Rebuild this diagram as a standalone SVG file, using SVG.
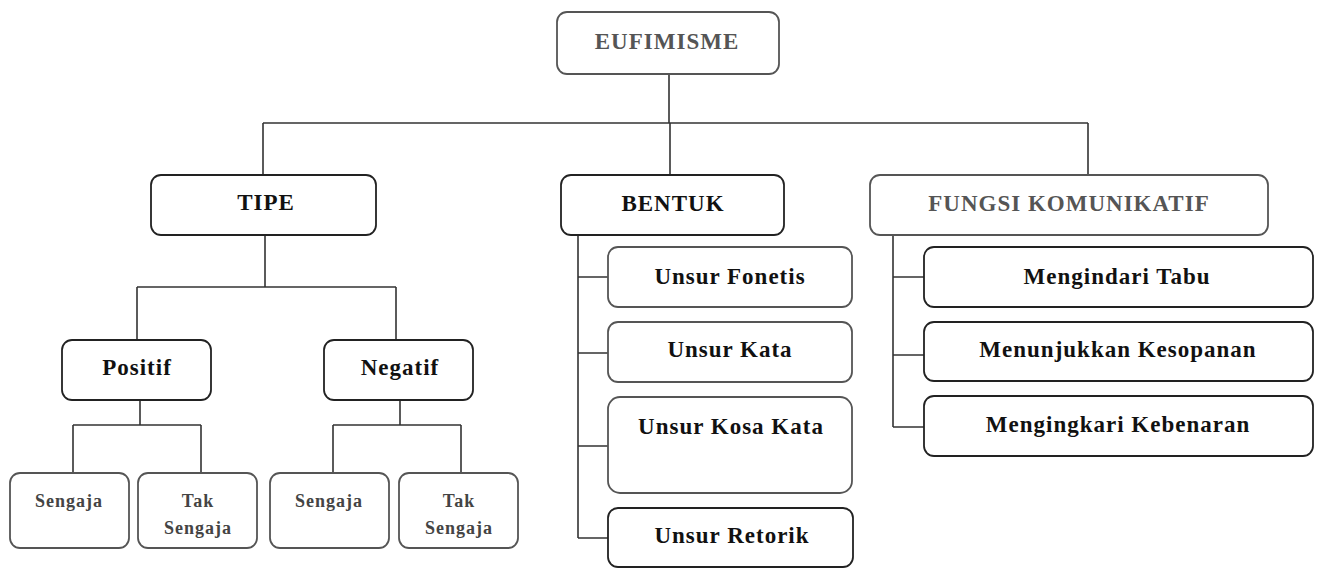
<svg xmlns="http://www.w3.org/2000/svg" width="1321" height="569" viewBox="0 0 1321 569">
<style>
.bx{fill:#fff;stroke:#222;stroke-width:1.8}
.gb{fill:#fff;stroke:#555;stroke-width:1.8}
.t{font-family:"Liberation Serif","Times New Roman",serif;font-weight:bold;font-size:23px;letter-spacing:1px;text-anchor:middle;fill:#111}
.g{fill:#555}
.s{font-family:"Liberation Serif","Times New Roman",serif;font-weight:bold;font-size:18px;letter-spacing:1px;text-anchor:middle;fill:#444}
.c{fill:none;stroke:#333;stroke-width:1.6}
</style>
<rect width="1321" height="569" fill="#fff"/>
<g id="connectors">
<path class="c" d="M669 74V123M263 123H1088M263 123V175M670 123V175M1088 123V176"/>
<path class="c" d="M265 235V287M137 287H396M137 287V340M396 287V340"/>
<path class="c" d="M140 400V425M73 425H201M73 425V473M201 425V473"/>
<path class="c" d="M400 400V425M333 425H461M333 425V473M461 425V473"/>
<path class="c" d="M578 235V538M578 277H608M578 353H608M578 446H608M578 538H608"/>
<path class="c" d="M893 235V427M893 277H924M893 355H924M893 427H924"/>
</g>
<g id="eufimisme"><rect class="gb" x="557" y="12" width="222" height="62" rx="10"/><text class="t g" x="667" y="49">EUFIMISME</text></g>
<g id="tipe"><rect class="bx" x="151" y="175" width="225" height="60" rx="10"/><text class="t" x="266" y="210">TIPE</text></g>
<g id="bentuk"><rect class="bx" x="561" y="175" width="223" height="60" rx="10"/><text class="t" x="673" y="211">BENTUK</text></g>
<g id="fungsi"><rect class="gb" x="870" y="175" width="398" height="60" rx="10"/><text class="t g" x="1069" y="211" letter-spacing="1.3">FUNGSI KOMUNIKATIF</text></g>
<g id="positif"><rect class="bx" x="62" y="340" width="149" height="60" rx="10"/><text class="t" x="137" y="375">Positif</text></g>
<g id="negatif"><rect class="bx" x="324" y="340" width="149" height="60" rx="10"/><text class="t" x="400" y="375">Negatif</text></g>
<g id="pos-sengaja"><rect class="gb" x="10" y="473" width="119" height="75" rx="10"/><text class="s" x="69" y="507">Sengaja</text></g>
<g id="pos-tak"><rect class="gb" x="138" y="473" width="119" height="75" rx="10"/><text class="s" x="198" y="507">Tak</text><text class="s" x="198" y="534">Sengaja</text></g>
<g id="neg-sengaja"><rect class="gb" x="270" y="473" width="119" height="75" rx="10"/><text class="s" x="329" y="507">Sengaja</text></g>
<g id="neg-tak"><rect class="gb" x="399" y="473" width="119" height="75" rx="10"/><text class="s" x="459" y="507">Tak</text><text class="s" x="459" y="534">Sengaja</text></g>
<g id="fonetis"><rect class="gb" x="608" y="247" width="244" height="60" rx="10"/><text class="t" x="730" y="284">Unsur Fonetis</text></g>
<g id="kata"><rect class="gb" x="608" y="322" width="244" height="60" rx="10"/><text class="t" x="730" y="357">Unsur Kata</text></g>
<g id="kosakata"><rect class="gb" x="608" y="397" width="244" height="96" rx="12"/><text class="t" x="731" y="434">Unsur Kosa Kata</text></g>
<g id="retorik"><rect class="bx" x="608" y="508" width="245" height="59" rx="10"/><text class="t" x="732" y="543">Unsur Retorik</text></g>
<g id="tabu"><rect class="bx" x="924" y="247" width="389" height="60" rx="10"/><text class="t" x="1117" y="284">Mengindari Tabu</text></g>
<g id="kesopanan"><rect class="bx" x="924" y="322" width="389" height="59" rx="10"/><text class="t" x="1118" y="357">Menunjukkan Kesopanan</text></g>
<g id="kebenaran"><rect class="bx" x="924" y="396" width="389" height="60" rx="10"/><text class="t" x="1118" y="432">Mengingkari Kebenaran</text></g>
</svg>
